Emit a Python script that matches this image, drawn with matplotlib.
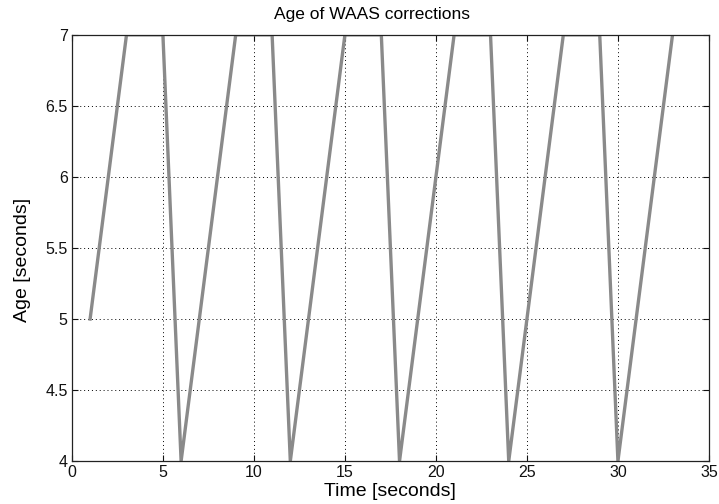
import matplotlib
matplotlib.use('Agg')
import matplotlib.pyplot as plt

plt.rcParams['font.family'] = ['Liberation Sans', 'DejaVu Sans']

# Age of the WAAS correction in use, sampled once per second
time_s = [1, 2, 3, 4, 5, 6, 7, 8, 9, 10, 11, 12, 13, 14, 15, 16, 17,
          18, 19, 20, 21, 22, 23, 24, 25, 26, 27, 28, 29, 30, 31, 32, 33]
age_s = [5, 6, 7, 7, 7, 4, 5, 6, 7, 7, 7, 4, 5, 6, 7, 7, 7,
         4, 5, 6, 7, 7, 7, 4, 5, 6, 7, 7, 7, 4, 5, 6, 7]

x_ticks = [0, 5, 10, 15, 20, 25, 30, 35]
y_ticks = [4, 4.5, 5, 5.5, 6, 6.5, 7]
y_tick_labels = ['4', '4.5', '5', '5.5', '6', '6.5', '7']

fig = plt.figure(figsize=(7.19, 5.04), dpi=100)
ax = fig.add_axes([0.100, 0.085, 0.886, 0.846])

ax.plot(time_s, age_s, color='#8a8a8a', linewidth=2.4, solid_joinstyle='miter')

ax.set_xlim(0, 35)
ax.set_ylim(4, 7)
ax.set_xticks(x_ticks)
ax.set_yticks(y_ticks)
ax.set_yticklabels(y_tick_labels)
ax.tick_params(direction='in', length=4, width=0.8, labelsize=11.5, pad=3,
               top=True, right=True, colors='#111111')

ax.grid(True, color='black', linestyle=(0, (1, 3)), linewidth=0.7)
for sp in ax.spines.values():
    sp.set_linewidth(0.9)
    sp.set_color('#222222')

ax.set_title('Age of WAAS corrections', fontsize=12.5, x=0.471, pad=11)
ax.set_xlabel('Time [seconds]', fontsize=14, labelpad=2)
ax.set_ylabel('Age [seconds]', fontsize=14)
ax.yaxis.set_label_coords(-0.064, 0.472)

fig.savefig('out.png', dpi=100)
